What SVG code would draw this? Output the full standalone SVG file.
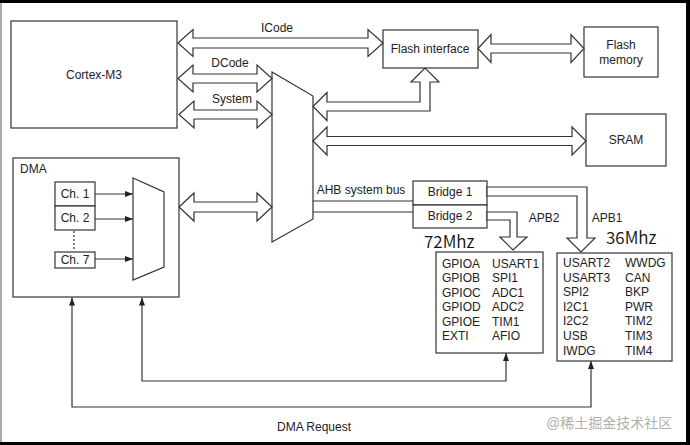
<svg xmlns="http://www.w3.org/2000/svg" width="690" height="445" viewBox="0 0 690 445">
<style>
.box{fill:#fff;stroke:#333;stroke-width:1.2}
.bus{fill:#fff;stroke:#333;stroke-width:1.2;stroke-linejoin:miter}
.ln{fill:none;stroke:#333;stroke-width:1.2}
.t{font-family:"Liberation Sans",Arial,sans-serif;font-size:12px;fill:#222}
.c{text-anchor:middle}
.mhz{font-family:"Noto Sans CJK SC","Noto Sans",sans-serif;font-size:17px;font-weight:350;fill:#111}
.wm{font-family:"Liberation Sans","Noto Sans CJK SC",sans-serif;font-size:14px;fill:#b0b0b0}
</style>
<defs>
<marker id="ah" viewBox="0 0 8 6" refX="8" refY="3" markerWidth="8" markerHeight="6" markerUnits="userSpaceOnUse" orient="auto-start-reverse">
<path d="M0,0 L8,3 L0,6 Z" fill="#222"/>
</marker>
</defs>
<rect x="0" y="0" width="690" height="445" fill="#000"/>
<rect x="0" y="3" width="686" height="439" fill="#fff"/>
<line x1="1" y1="3" x2="1" y2="442" stroke="#aaa" stroke-width="2"/>

<g id="cortex">
<rect class="box" x="11" y="21" width="166" height="107"/>
<text class="t c" x="94" y="79">Cortex-M3</text>
</g>
<g id="busmatrix">
<polygon class="box" points="272,72 313,96 313,219 272,242"/>
</g>
<g id="flash-interface">
<rect class="box" x="383" y="30" width="95" height="38"/>
<text class="t c" x="430" y="53">Flash interface</text>
</g>
<g id="flash-memory">
<rect class="box" x="584" y="27" width="74" height="50"/>
<text class="t c" x="621" y="49">Flash</text>
<text class="t c" x="621" y="64">memory</text>
</g>
<g id="sram">
<rect class="box" x="586" y="114" width="80" height="52"/>
<text class="t c" x="626" y="144">SRAM</text>
</g>
<g id="dma">
<rect class="box" x="13" y="158" width="166" height="139"/>
<text class="t" x="20" y="173">DMA</text>
<rect class="box" x="55" y="182" width="40" height="24"/>
<text class="t c" x="75" y="198">Ch. 1</text>
<rect class="box" x="55" y="206" width="40" height="24"/>
<text class="t c" x="75" y="222">Ch. 2</text>
<rect class="box" x="55" y="252" width="40" height="16"/>
<text class="t c" x="75" y="264">Ch. 7</text>
<polygon class="box" points="133,178 164,192 164,267 133,280"/>
</g>
<g id="bridge1">
<rect class="box" x="413" y="181" width="74" height="24"/>
<text class="t c" x="450" y="196">Bridge 1</text>
</g>
<g id="bridge2">
<rect class="box" x="413" y="205" width="74" height="23"/>
<text class="t c" x="450" y="220">Bridge 2</text>
</g>
<g id="apb2-periph">
<text class="mhz" x="424" y="248">72Mhz</text>
<rect class="box" x="436" y="252" width="107" height="101"/>
<text class="t" x="442" y="267.5">GPIOA</text>
<text class="t" x="442" y="282">GPIOB</text>
<text class="t" x="442" y="296.5">GPIOC</text>
<text class="t" x="442" y="311">GPIOD</text>
<text class="t" x="442" y="325.5">GPIOE</text>
<text class="t" x="442" y="340">EXTI</text>
<text class="t" x="492" y="267.5">USART1</text>
<text class="t" x="492" y="282">SPI1</text>
<text class="t" x="492" y="296.5">ADC1</text>
<text class="t" x="492" y="311">ADC2</text>
<text class="t" x="492" y="325.5">TIM1</text>
<text class="t" x="492" y="340">AFIO</text>
</g>
<g id="apb1-periph">
<text class="mhz" x="606" y="244">36Mhz</text>
<rect class="box" x="557" y="253" width="115" height="108"/>
<text class="t" x="563" y="267">USART2</text>
<text class="t" x="563" y="281.6">USART3</text>
<text class="t" x="563" y="296.2">SPI2</text>
<text class="t" x="563" y="310.8">I2C1</text>
<text class="t" x="563" y="325.4">I2C2</text>
<text class="t" x="563" y="340">USB</text>
<text class="t" x="563" y="354.6">IWDG</text>
<text class="t" x="625" y="267">WWDG</text>
<text class="t" x="625" y="281.6">CAN</text>
<text class="t" x="625" y="296.2">BKP</text>
<text class="t" x="625" y="310.8">PWR</text>
<text class="t" x="625" y="325.4">TIM2</text>
<text class="t" x="625" y="340">TIM3</text>
<text class="t" x="625" y="354.6">TIM4</text>
</g>

<g id="connectors">
<polygon class="bus" points="178,43 193,29.5 193,38 368,38 368,29.5 383,43 368,56.5 368,48 193,48 193,56.5"/>
<polygon class="bus" points="178,78.5 193,65 193,74 257,74 257,65 272,78.5 257,92 257,83 193,83 193,92"/>
<polygon class="bus" points="179,114.5 194,101 194,110 257,110 257,101 272,114.5 257,128 257,119 194,119 194,128"/>
<polygon class="bus" points="179,207 194,193 194,202 257,202 257,193 272,207 257,221 257,212 194,212 194,221"/>
<polygon class="bus" points="478,48.5 491,34.5 491,44 571,44 571,34.5 584,48.5 571,62.5 571,53 491,53 491,62.5"/>
<polygon class="bus" points="313,141 327,127 327,136.5 572,136.5 572,127 586,141 572,155 572,145.5 327,145.5 327,155"/>
<polygon class="bus" points="313,106.5 327,92.5 327,102 420,102 420,82 411,82 425,68 439,82 430,82 430,111 327,111 327,120.5"/>
<polygon class="bus" points="487,187 587,187 587,238 595,238 581,252 567,238 577,238 577,196 487,196"/>
<polygon class="bus" points="487,212 517,212 517,237 527,237 513,250 500,237 510,237 510,220 487,220"/>
<line class="ln" x1="313" y1="201" x2="413" y2="201"/>
<line class="ln" x1="313" y1="212" x2="413" y2="212"/>
<line class="ln" x1="95" y1="194" x2="133" y2="194" marker-end="url(#ah)"/>
<line class="ln" x1="95" y1="219" x2="133" y2="219" marker-end="url(#ah)"/>
<line class="ln" x1="95" y1="259" x2="133" y2="259" marker-end="url(#ah)"/>
<line class="ln" x1="74" y1="231" x2="74" y2="251" stroke-dasharray="2,2"/>
<polyline class="ln" points="142,297.5 142,381 506,381 506,353" marker-start="url(#ah)" marker-end="url(#ah)"/>
<polyline class="ln" points="72,297.5 72,407 591,407 591,361" marker-start="url(#ah)" marker-end="url(#ah)"/>
<text class="t c" x="277" y="32">ICode</text>
<text class="t c" x="230" y="67">DCode</text>
<text class="t c" x="232" y="103">System</text>
<text class="t c" x="361" y="194">AHB system bus</text>
<text class="t c" x="544" y="222">APB2</text>
<text class="t c" x="607" y="222">APB1</text>
<text class="t c" x="314" y="431">DMA Request</text>
</g>
<text class="wm" x="546" y="428">@稀土掘金技术社区</text>
</svg>
